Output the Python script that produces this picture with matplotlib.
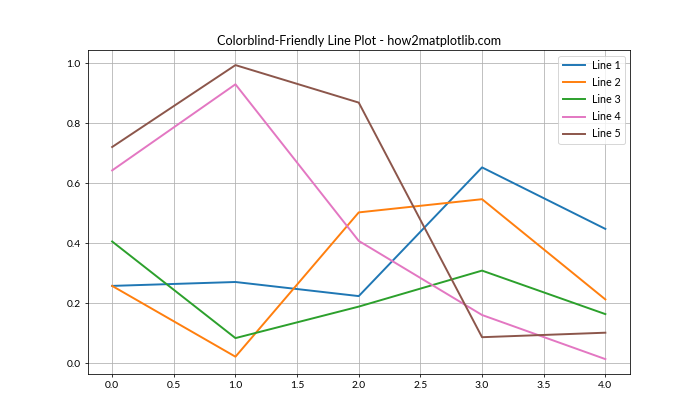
import matplotlib
matplotlib.use("Agg")
import matplotlib.pyplot as plt

plt.rcParams['font.family'] = ['Lato', 'DejaVu Sans']

x = [0, 1, 2, 3, 4]
line1 = [0.258, 0.271, 0.224, 0.653, 0.448]
line2 = [0.258, 0.022, 0.503, 0.547, 0.213]
line3 = [0.406, 0.084, 0.189, 0.309, 0.164]
line4 = [0.643, 0.930, 0.408, 0.161, 0.014]
line5 = [0.721, 0.994, 0.869, 0.087, 0.102]
labels = ['Line 1', 'Line 2', 'Line 3', 'Line 4', 'Line 5']
colors = ['#1f77b4', '#ff7f0e', '#2ca02c', '#e377c2', '#8c564b']

# 10x6 inches at 70 dpi -> 700x420 px
fig, ax = plt.subplots(figsize=(10, 6), dpi=70)
for ys, lab, c in zip([line1, line2, line3, line4, line5], labels, colors):
    ax.plot(x, ys, label=lab, color=c, linewidth=2)

ax.set_title('Colorblind-Friendly Line Plot - how2matplotlib.com', fontsize=13)
ax.legend(fontsize=11, handlelength=2.1, labelspacing=0.57, handletextpad=0.6)
ax.grid(True)
ax.tick_params(labelsize=10.5)

fig.savefig("out.png", dpi=70)
